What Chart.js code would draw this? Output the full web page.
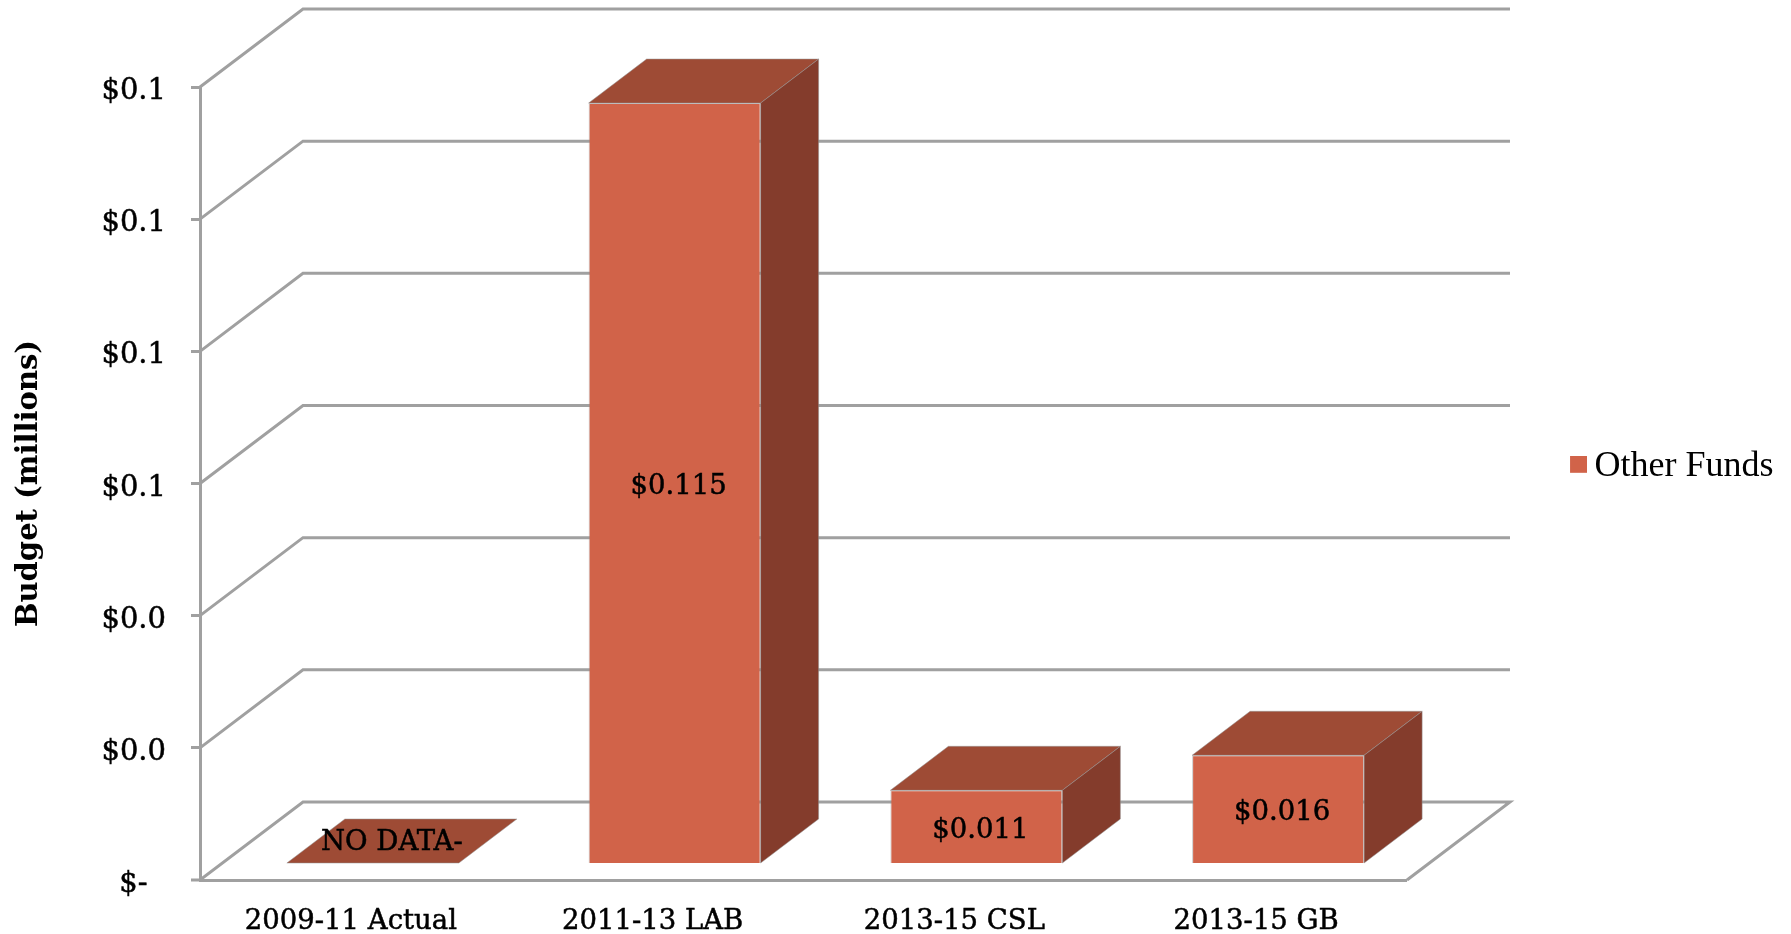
<!DOCTYPE html>
<html>
<head>
<meta charset="utf-8">
<title>Other Funds</title>
<script src="https://cdn.jsdelivr.net/npm/chart.js@4/dist/chart.umd.min.js"></script>
<style>
  html, body { margin: 0; padding: 0; background: #fff; }
  canvas { display: block; }
</style>
</head>
<body>
<canvas id="miGrafica" width="1791" height="934"></canvas>
<script>
// Datos
const categorias = ['2009-11 Actual', '2011-13 LAB', '2013-15 CSL', '2013-15 GB'];
const otrosFondos = [0, 0.115, 0.011, 0.0163];
const etiquetasDatos = ['NO DATA-', '$0.115', '$0.011', '$0.016'];
const etiquetasY = ['$-\u00a0\u00a0', '$0.0', '$0.0', '$0.1', '$0.1', '$0.1', '$0.1'];

const colorFrente = '#d16349';
const colorArriba = '#9e4b35';
const colorLado = '#843c2c';
const colorLinea = '#a0a0a0';
const fuenteSerif = '"DejaVu Serif"';

// Profundidad del piso y de las barras (efecto 3D)
const fondoX = 103, fondoY = -78;
const planoX = 22, planoY = -17;
const barraX = 58, barraY = -44;

// Cuadrito de la leyenda, como imagen para acercarlo al texto
// (el margen transparente lo corre a la derecha y hacia arriba)
const cuadro = document.createElement('canvas');
cuadro.width = 21;
cuadro.height = 21;
const cuadroCtx = cuadro.getContext('2d');
cuadroCtx.fillStyle = colorFrente;
cuadroCtx.fillRect(4, 0, 17, 17);

function cara(ctx, puntos, color) {
    ctx.beginPath();
    puntos.forEach((p, i) => i ? ctx.lineTo(p[0], p[1]) : ctx.moveTo(p[0], p[1]));
    ctx.closePath();
    ctx.fillStyle = color;
    ctx.fill();
    ctx.strokeStyle = 'rgba(150,150,150,0.5)';
    ctx.lineWidth = 1;
    ctx.stroke();
}

const caja3d = {
    id: 'caja3d',
    afterLayout(chart) {
        // La leyenda va mas a la derecha que el piso
        const leg = chart.legend;
        const w = leg.right - leg.left, h = leg.bottom - leg.top;
        leg.left = 1566.5;
        leg.right = leg.left + w;
        leg.top = 466.3 - h / 2;
        leg.bottom = leg.top + h;
    },
    beforeDatasetsDraw(chart) {
        // Paredes y piso salen de las escalas
        const ctx = chart.ctx, x = chart.scales.x, y = chart.scales.y;
        ctx.save();
        ctx.strokeStyle = colorLinea;
        ctx.lineWidth = 3;
        y.ticks.forEach(t => {
            const py = y.getPixelForValue(t.value);
            ctx.beginPath();
            // la marca del cero se dibuja aqui, ver grid.lineWidth
            ctx.moveTo(t.value === 0 ? x.left - 9 : x.left, py);
            if (t.value === 0) {
                ctx.lineTo(x.left, py);
            }
            ctx.lineTo(x.left + fondoX, py + fondoY);
            ctx.lineTo(x.right + fondoX, py + fondoY);
            if (t.value === 0) {
                ctx.lineTo(x.right, py);
            }
            ctx.stroke();
        });
        ctx.restore();
    },
    beforeDatasetDraw(chart, args) {
        // Todo el plano de las barras se mueve hacia el fondo
        const ctx = chart.ctx;
        ctx.save();
        ctx.translate(planoX, planoY);
        args.meta.data.forEach(b => {
            const l = b.x - b.width / 2, r = b.x + b.width / 2;
            cara(ctx, [[l, b.y], [r, b.y], [r + barraX, b.y + barraY], [l + barraX, b.y + barraY]], colorArriba);
            if (b.base - b.y > 1) {
                cara(ctx, [[r, b.y], [r + barraX, b.y + barraY], [r + barraX, b.base + barraY], [r, b.base]], colorLado);
            }
        });
    },
    afterDatasetDraw(chart, args) {
        const ctx = chart.ctx;
        ctx.fillStyle = '#000';
        ctx.strokeStyle = '#000';
        ctx.lineWidth = 0.5;
        ctx.font = '27.5px ' + fuenteSerif;
        ctx.textAlign = 'center';
        ctx.textBaseline = 'middle';
        args.meta.data.forEach((b, i) => {
            let px = b.x + 4, py = (b.y + b.base) / 2 + 4;
            if (otrosFondos[i] === 0) {
                px = b.x + 19;
                py = b.base - 20;
            }
            ctx.fillText(etiquetasDatos[i], px, py);
            ctx.strokeText(etiquetasDatos[i], px, py);
        });
        ctx.restore();
    }
};

new Chart(document.getElementById('miGrafica').getContext('2d'), {
    type: 'bar',
    data: {
        labels: categorias,
        datasets: [{
            label: 'Other Funds',
            data: otrosFondos,
            backgroundColor: colorFrente,
            borderColor: 'rgba(150,150,150,0.5)',
            borderWidth: 1,
            barPercentage: 1,
            categoryPercentage: 0.57
        }]
    },
    options: {
        responsive: false,
        animation: false,
        layout: { padding: { top: 87, right: 167, bottom: 0, left: 0 } },
        plugins: {
            tooltip: { enabled: false },
            legend: {
                position: 'right',
                labels: {
                    usePointStyle: true,
                    pointStyle: cuadro,
                    pointStyleWidth: 0.01,
                    color: '#000',
                    font: { family: '"Liberation Serif"', size: 36 }
                }
            }
        },
        scales: {
            x: {
                afterFit: s => { s.height = 54; },
                grid: { display: false, drawTicks: false },
                border: { display: true, color: colorLinea, width: 3 },
                ticks: {
                    color: '#000',
                    padding: 25,
                    maxRotation: 0,
                    textStrokeColor: '#000',
                    textStrokeWidth: 0.5,
                    font: { family: fuenteSerif, size: 27.5 }
                }
            },
            y: {
                min: 0,
                max: 0.12,
                afterFit: s => { s.width = 200; },
                title: {
                    display: true,
                    text: 'Budget (millions)',
                    color: '#000',
                    padding: { top: 12, bottom: 0 },
                    font: { family: fuenteSerif, size: 29, weight: 'bold' }
                },
                // ancho 0 en el cero para que la barra llegue hasta su base
                grid: {
                    drawOnChartArea: false,
                    color: colorLinea,
                    lineWidth: c => (c.tick && c.tick.value === 0 ? 0 : 3),
                    tickLength: 9
                },
                border: { display: true, color: colorLinea, width: 3 },
                ticks: {
                    stepSize: 0.02,
                    color: '#000',
                    padding: 25,
                    textStrokeColor: '#000',
                    textStrokeWidth: 0.5,
                    // linea vacia arriba: baja el texto unos pixeles respecto a la marca
                    font: { family: fuenteSerif, size: 29, lineHeight: '9px' },
                    callback: (v, i) => ['', etiquetasY[i]]
                }
            }
        }
    },
    plugins: [caja3d]
});
</script>
</body>
</html>
